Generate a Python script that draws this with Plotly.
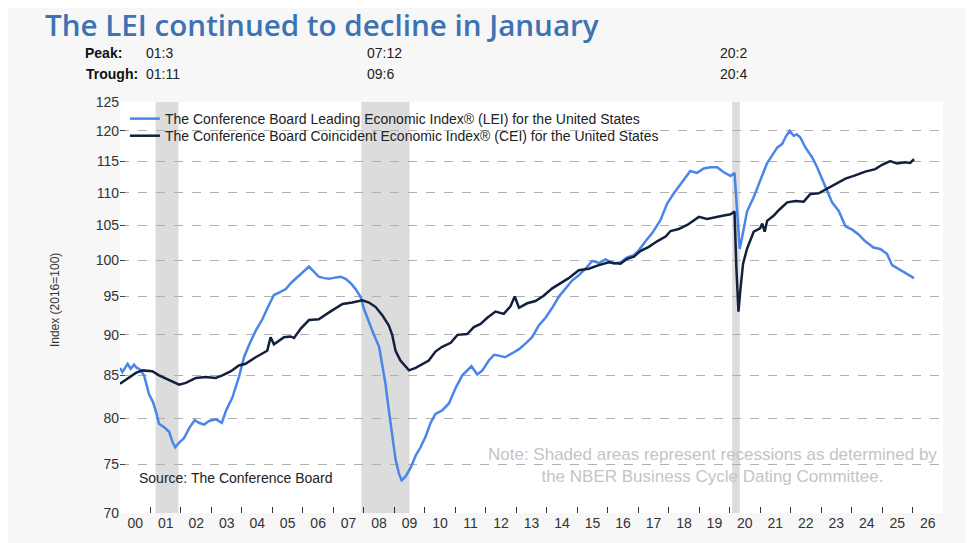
import math
import plotly.graph_objects as go

# ---- data (decimal years) ----
lei_x = [2000.00, 2000.08, 2000.25, 2000.35, 2000.46, 2000.55, 2000.63, 2000.79, 2000.95, 2001.09,
         2001.20, 2001.28, 2001.45, 2001.61, 2001.72, 2001.81, 2001.94, 2002.10, 2002.27, 2002.45,
         2002.59, 2002.76, 2002.92, 2003.14, 2003.34, 2003.47, 2003.69, 2003.90, 2004.07, 2004.23,
         2004.45, 2004.67, 2004.89, 2005.05, 2005.20, 2005.44, 2005.60, 2005.76, 2006.04, 2006.20,
         2006.36, 2006.52, 2006.70, 2006.86, 2007.08, 2007.24, 2007.40, 2007.57, 2007.73, 2007.90,
         2008.00, 2008.17, 2008.33, 2008.50, 2008.61, 2008.71, 2008.82, 2008.93, 2009.04, 2009.15,
         2009.24, 2009.37, 2009.53, 2009.70, 2009.86, 2010.03, 2010.19, 2010.35, 2010.57, 2010.79,
         2011.01, 2011.23, 2011.40, 2011.53, 2011.72, 2011.89, 2012.10, 2012.27, 2012.43, 2012.63,
         2012.87, 2013.09, 2013.30, 2013.52, 2013.74, 2013.96, 2014.18, 2014.40, 2014.62, 2014.84,
         2015.05, 2015.27, 2015.49, 2015.71, 2015.93, 2016.20, 2016.42, 2016.64, 2016.86, 2017.02,
         2017.24, 2017.46, 2017.73, 2017.95, 2018.17, 2018.44, 2018.71, 2018.93, 2019.15, 2019.37,
         2019.59, 2019.81, 2020.03, 2020.16, 2020.25, 2020.33, 2020.41, 2020.57, 2020.79, 2021.01,
         2021.23, 2021.39, 2021.56, 2021.72, 2021.85, 2021.97, 2022.10, 2022.21, 2022.32, 2022.49,
         2022.71, 2022.87, 2023.03, 2023.20, 2023.36, 2023.58, 2023.80, 2024.02, 2024.23, 2024.45,
         2024.72, 2024.94, 2025.16, 2025.33, 2025.54, 2025.76, 2026.05]
lei_y = [85.9, 85.4, 86.4, 85.8, 86.3, 85.9, 85.8, 85.0, 82.8, 81.8,
         80.5, 79.4, 79.0, 78.5, 77.4, 76.8, 77.3, 77.8, 78.9, 79.8,
         79.5, 79.3, 79.7, 79.9, 79.5, 80.8, 82.4, 84.8, 87.2, 88.7,
         90.5, 92.0, 93.9, 95.2, 95.5, 96.0, 96.8, 97.4, 98.6, 99.1,
         98.4, 97.7, 97.5, 97.4, 97.6, 97.7, 97.4, 96.8, 96.0, 94.9,
         93.4, 91.5, 90.0, 88.5, 86.2, 84.0, 80.9, 77.9, 75.5, 74.0,
         73.3, 73.7, 74.6, 75.9, 76.8, 78.0, 79.5, 80.5, 80.9, 81.7,
         83.5, 85.0, 85.6, 86.1, 85.1, 85.6, 86.8, 87.5, 87.4, 87.2,
         87.7, 88.2, 88.9, 89.7, 91.2, 92.2, 93.5, 95.0, 96.1, 97.2,
         97.9, 98.8, 99.9, 99.6, 100.1, 99.5, 99.7, 100.4, 100.7, 101.4,
         102.7, 103.9, 105.8, 108.3, 109.9, 111.6, 113.4, 113.1, 113.8, 114.0,
         114.0, 113.2, 112.6, 113.1, 106.3, 101.6, 103.3, 107.1, 109.3, 112.0,
         114.7, 115.9, 117.2, 117.8, 119.1, 120.0, 119.2, 119.4, 118.9, 117.2,
         115.6, 114.0, 112.2, 110.3, 108.5, 107.2, 104.9, 104.4, 103.7, 102.7,
         101.8, 101.6, 100.9, 99.3, 98.8, 98.3, 97.5]

cei_x = [2000.00, 2000.30, 2000.52, 2000.74, 2001.06, 2001.28, 2001.50, 2001.72, 2001.94, 2002.16,
         2002.49, 2002.81, 2003.14, 2003.36, 2003.64, 2003.90, 2004.12, 2004.45, 2004.83, 2004.94,
         2005.05, 2005.38, 2005.60, 2005.71, 2005.93, 2006.20, 2006.52, 2006.86, 2007.08, 2007.30,
         2007.62, 2007.95, 2008.17, 2008.39, 2008.61, 2008.82, 2008.93, 2009.04, 2009.20, 2009.37,
         2009.48, 2009.70, 2009.92, 2010.13, 2010.35, 2010.57, 2010.85, 2011.07, 2011.39, 2011.61,
         2011.83, 2012.05, 2012.32, 2012.59, 2012.81, 2012.95, 2013.09, 2013.36, 2013.63, 2013.90,
         2014.18, 2014.45, 2014.72, 2015.05, 2015.38, 2015.71, 2016.04, 2016.20, 2016.42, 2016.64,
         2016.86, 2017.07, 2017.35, 2017.62, 2017.90, 2018.06, 2018.33, 2018.61, 2018.99, 2019.26,
         2019.54, 2019.81, 2020.03, 2020.16, 2020.22, 2020.29, 2020.35, 2020.44, 2020.57, 2020.68,
         2020.79, 2021.00, 2021.07, 2021.15, 2021.23, 2021.45, 2021.61, 2021.89, 2022.16, 2022.43,
         2022.65, 2022.92, 2023.20, 2023.47, 2023.80, 2024.12, 2024.45, 2024.78, 2025.00, 2025.27,
         2025.49, 2025.76, 2025.92, 2026.05]
cei_y = [84.0, 84.8, 85.3, 85.6, 85.5, 85.0, 84.6, 84.2, 83.9, 84.1,
         84.7, 84.8, 84.7, 85.0, 85.5, 86.2, 86.4, 87.2, 88.0, 89.7,
         88.8, 89.7, 89.8, 89.6, 90.8, 91.9, 92.0, 92.9, 93.4, 94.0,
         94.2, 94.5, 94.2, 93.6, 92.5, 91.2, 90.0, 88.0, 86.8, 86.0,
         85.6, 85.9, 86.4, 86.8, 87.9, 88.5, 89.0, 90.0, 90.1, 91.0,
         91.4, 92.2, 93.0, 92.7, 93.7, 95.0, 93.5, 94.1, 94.4, 95.1,
         96.1, 96.8, 97.5, 98.6, 98.8, 99.3, 99.7, 99.6, 99.5, 100.2,
         100.5, 101.3, 101.9, 102.7, 103.4, 104.2, 104.5, 105.1, 106.3, 106.0,
         106.3, 106.5, 106.7, 107.1, 99.0, 93.0, 95.8, 99.5, 101.6, 102.9,
         104.1, 104.6, 105.3, 104.1, 105.7, 106.5, 107.3, 108.5, 108.7, 108.6,
         109.8, 109.9, 110.6, 111.4, 112.2, 112.7, 113.3, 113.7, 114.4, 115.0,
         114.6, 114.8, 114.7, 115.3]

# recessions: (peak year, month), (trough year, month)
rec_peak = [(2001, 3), (2007, 12), (2020, 2)]
rec_trough = [(2001, 11), (2009, 6), (2020, 4)]

year_labels = ["00", "01", "02", "03", "04", "05", "06", "07", "08", "09", "10", "11", "12", "13",
               "14", "15", "16", "17", "18", "19", "20", "21", "22", "23", "24", "25", "26"]
y_ticks = [70, 75, 80, 85, 90, 95, 100, 105, 110, 115, 120, 125]

LEI_NAME = "The Conference Board Leading Economic Index\u00ae (LEI) for the United States"
CEI_NAME = "The Conference Board Coincident Economic Index\u00ae (CEI) for the United States"

FONT = "Arial, Liberation Sans, sans-serif"

fig = go.Figure()
fig.add_trace(go.Scatter(x=lei_x, y=lei_y, mode="lines", name=LEI_NAME, legend="legend",
                         line=dict(color="#4a86e8", width=2.5)))
fig.add_trace(go.Scatter(x=cei_x, y=cei_y, mode="lines", name=CEI_NAME, legend="legend2",
                         line=dict(color="#13203d", width=2.5)))

for (py, pm), (ty, tm) in zip(rec_peak, rec_trough):
    fig.add_shape(type="rect", xref="x", yref="paper",
                  x0=py + (pm - 1) / 12, x1=ty + tm / 12, y0=0, y1=1,
                  fillcolor="#dcdcdc", line=dict(width=0), layer="below")

start_year = 2000
fig.update_xaxes(
    range=[start_year, start_year + len(year_labels)],
    tickvals=[start_year + i + 0.5 for i in range(len(year_labels))],
    ticktext=year_labels,
    ticks="", showgrid=False, zeroline=False, showline=False,
    tickfont=dict(family=FONT, size=14, color="#333333"),
    minor=dict(tickvals=[start_year + i for i in range(1, len(year_labels))],
               ticks="inside", ticklen=6, tickcolor="#333333", tickwidth=1, showgrid=False),
)
fig.update_yaxes(
    type="log",
    range=[math.log10(70), math.log10(125)],
    tickvals=y_ticks, ticktext=[str(v) for v in y_ticks],
    ticks="inside", ticklen=5, tickcolor="#444444",
    showgrid=False, zeroline=False, showline=False,
    tickfont=dict(family=FONT, size=14, color="#333333"),
    minor=dict(tickvals=y_ticks[1:-1], showgrid=True, gridcolor="#b0b0b0",
               griddash="dash", gridwidth=1, ticks=""),
)

ann = []
ann.append(dict(text="Index (2016=100)", textangle=-90, xref="paper", yref="paper",
                x=-0.079, y=0.518, xanchor="center", yanchor="middle", showarrow=False,
                font=dict(family=FONT, size=12, color="#333333")))
ann.append(dict(text="Source: The Conference Board", xref="paper", yref="paper",
                x=0.021, y=0.085, xanchor="left", yanchor="middle", showarrow=False,
                font=dict(family=FONT, size=14, color="#222222")))
ann.append(dict(text="Note: Shaded areas represent recessions as determined by<br>the NBER Business Cycle Dating Committee.",
                xref="paper", yref="paper", x=0.72, y=0.116, xanchor="center", yanchor="middle",
                showarrow=False, align="center",
                font=dict(family=FONT, size=17, color="#c4c4c4")))
ann.append(dict(text="<b>Peak:</b>", xref="paper", yref="paper", x=-0.045, y=1.119,
                xanchor="left", yanchor="middle", showarrow=False,
                font=dict(family=FONT, size=14, color="#111111")))
ann.append(dict(text="<b>Trough:</b>", xref="paper", yref="paper", x=-0.044, y=1.068,
                xanchor="left", yanchor="middle", showarrow=False,
                font=dict(family=FONT, size=14, color="#111111")))
label_x = [0.029, 0.298, 0.727]
for lx, (py, pm), (ty, tm) in zip(label_x, rec_peak, rec_trough):
    ann.append(dict(text=f"{py % 100:02d}:{pm}", xref="paper", yref="paper", x=lx, y=1.119,
                    xanchor="left", yanchor="middle", showarrow=False,
                    font=dict(family=FONT, size=14, color="#222222")))
    ann.append(dict(text=f"{ty % 100:02d}:{tm}", xref="paper", yref="paper", x=lx, y=1.068,
                    xanchor="left", yanchor="middle", showarrow=False,
                    font=dict(family=FONT, size=14, color="#222222")))

# page body has an 8px margin: figure is sized to end exactly at the window edge
W, H, OFF = 965, 535, 8
legend_style = dict(xanchor="left", yanchor="middle", bgcolor="rgba(0,0,0,0)",
                    font=dict(family=FONT, size=14, color="#222222"), itemwidth=30)
fig.update_layout(
    width=W, height=H,
    margin=dict(l=120 - OFF, r=30, t=102 - OFF, b=30),
    paper_bgcolor="#f7f7f7", plot_bgcolor="#ffffff",
    title=dict(text="The LEI continued to decline in January", x=(45 - OFF) / W, xanchor="left",
               y=1 - (26 - OFF) / H, yanchor="middle",
               font=dict(family="Open Sans, Lato, sans-serif", size=29.6, weight=600, color="#3d72b3")),
    showlegend=True,
    legend=dict(x=0.006, y=0.9586, **legend_style),
    legend2=dict(x=0.006, y=0.917, **legend_style),
    annotations=ann,
)

fig.write_html("out.html")
